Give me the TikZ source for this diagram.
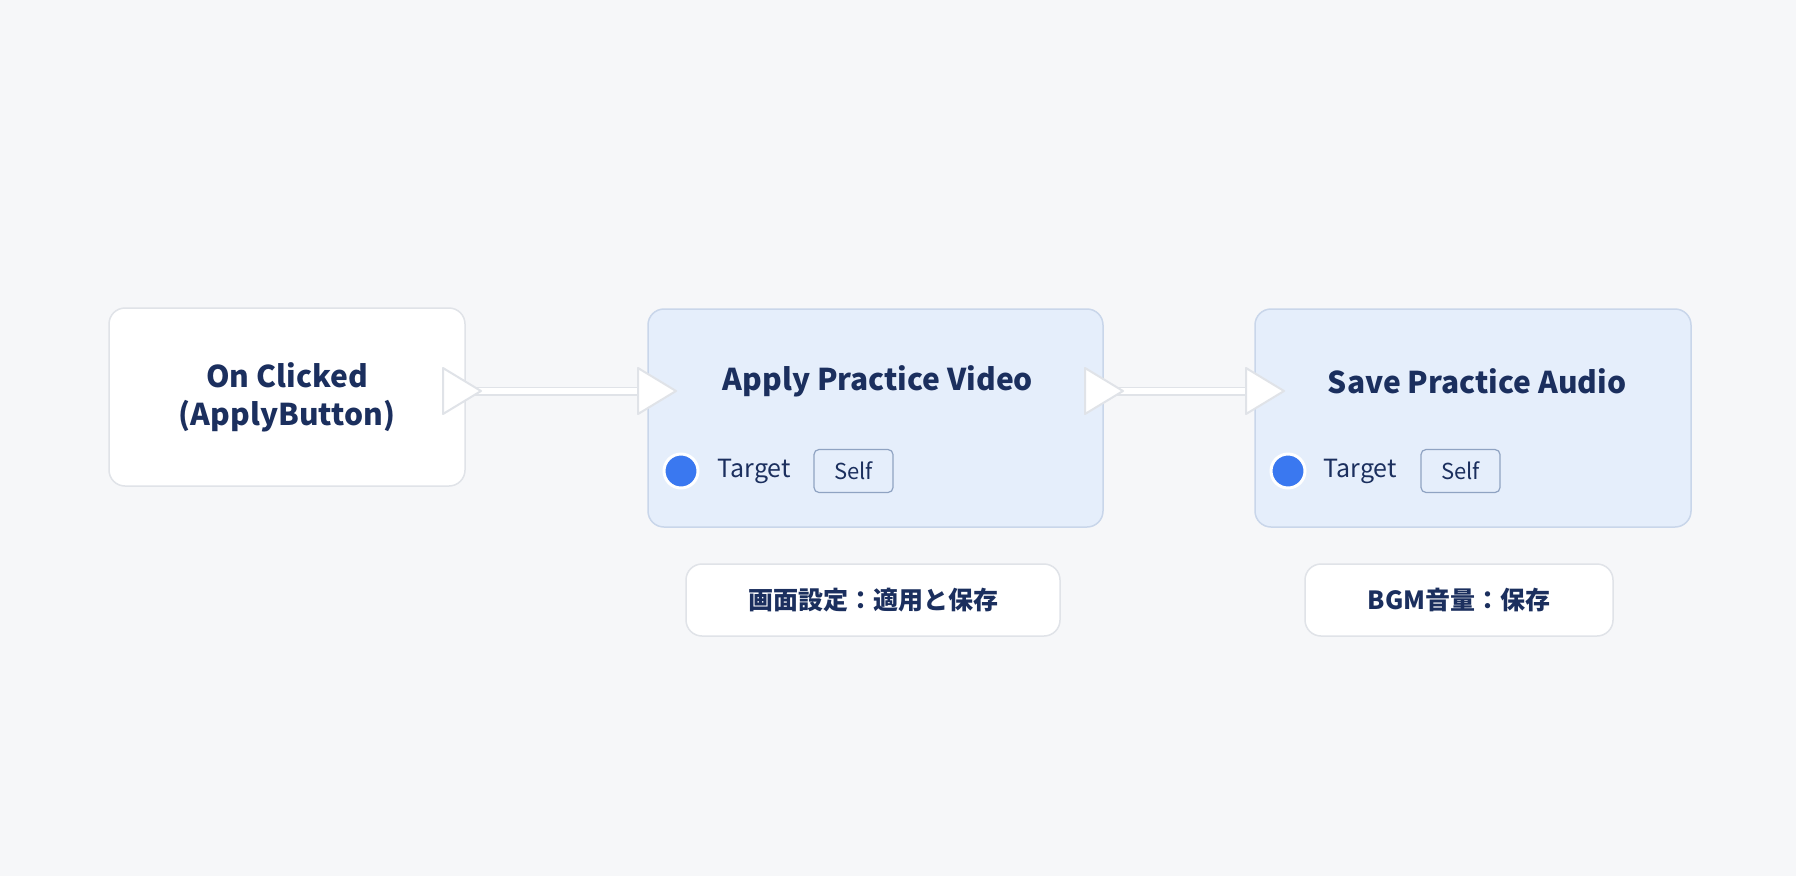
\documentclass[tikz,border=0pt]{standalone}
\usepackage{fontspec}
\setmainfont{Noto Sans CJK JP}
\definecolor{bg}{HTML}{F6F7F9}
\definecolor{navy}{HTML}{1B2F5E}
\definecolor{bluefill}{HTML}{E5EEFB}
\definecolor{blueedge}{HTML}{C9D6EA}
\definecolor{greyedge}{HTML}{E0E3E8}
\definecolor{dot}{HTML}{3A78F0}
\definecolor{selfedge}{HTML}{8FA3C2}
\begin{document}
\begin{tikzpicture}[x=1pt,y=-1pt,
  card/.style={rounded corners=16pt,line width=1.5pt},
  whitecard/.style={card,draw=greyedge,fill=white},
  bluecard/.style={card,draw=blueedge,fill=bluefill},
  txt/.style={text=navy,font=\fontsize{30}{38}\selectfont\bfseries},
  small/.style={text=navy,font=\fontsize{25}{30}\selectfont\bfseries},
  lab/.style={text=navy,font=\fontsize{25}{30}\selectfont},
  selfbox/.style={draw=selfedge,fill=bluefill,rounded corners=5pt,line width=1.2pt,minimum width=79pt,minimum height=43pt,text=navy,font=\fontsize{22}{26}\selectfont},
  pin/.style={draw=greyedge,fill=white,line width=2pt,line join=round},
  wire/.style={line width=9pt,draw=greyedge},
  wirein/.style={line width=6pt,draw=white}]
\fill[bg] (0,0) rectangle (1796,876);
\useasboundingbox (0,0) rectangle (1796,876);
% cards
\node[whitecard,minimum width=356pt,minimum height=178pt] (n1) at (287,397) {};
\node[bluecard,minimum width=455pt,minimum height=218pt] (n2) at (875.5,418) {};
\node[bluecard,minimum width=436pt,minimum height=218pt] (n3) at (1473,418) {};
\node[txt,align=center] (t1) at (287,397) {On Clicked\\(ApplyButton)};
\node[txt] (t2) at (878,381) {Apply Practice Video};
\node[txt] (t3) at (1477,381) {Save Practice Audio};
% wires
\coordinate (o1) at (462,391); \coordinate (i2) at (656,391);
\coordinate (o2) at (1104,391); \coordinate (i3) at (1264,391);
\draw[wire] (o1) -- (i2); \draw[wirein] (o1) -- (i2);
\draw[wire] (o2) -- (i3); \draw[wirein] (o2) -- (i3);
% pins
\foreach \x/\nm in {443/p1,638/p2,1085/p3,1246/p4}{
  \draw[pin] (\x,368) -- (\x+38,391) -- (\x,414) -- cycle;
  \node[inner sep=0pt] (\nm) at (\x+15,391) {};
}
% target rows
\node[circle,fill=dot,draw=white,line width=3pt,minimum size=34pt] (d2) at (681,471) {};
\node[lab,anchor=west] (tg2) at (714,471) {Target};
\node[selfbox] (s2) at (853.5,471) {Self};
\node[circle,fill=dot,draw=white,line width=3pt,minimum size=34pt] (d3) at (1288,471) {};
\node[lab,anchor=west] (tg3) at (1320,471) {Target};
\node[selfbox] (s3) at (1460.5,471) {Self};
% labels
\node[whitecard,minimum width=374pt,minimum height=72pt,small] (l1) at (873,600) {画面設定：適用と保存};
\node[whitecard,minimum width=308pt,minimum height=72pt,small] (l2) at (1459,600) {BGM音量：保存};
\end{tikzpicture}
\end{document}
